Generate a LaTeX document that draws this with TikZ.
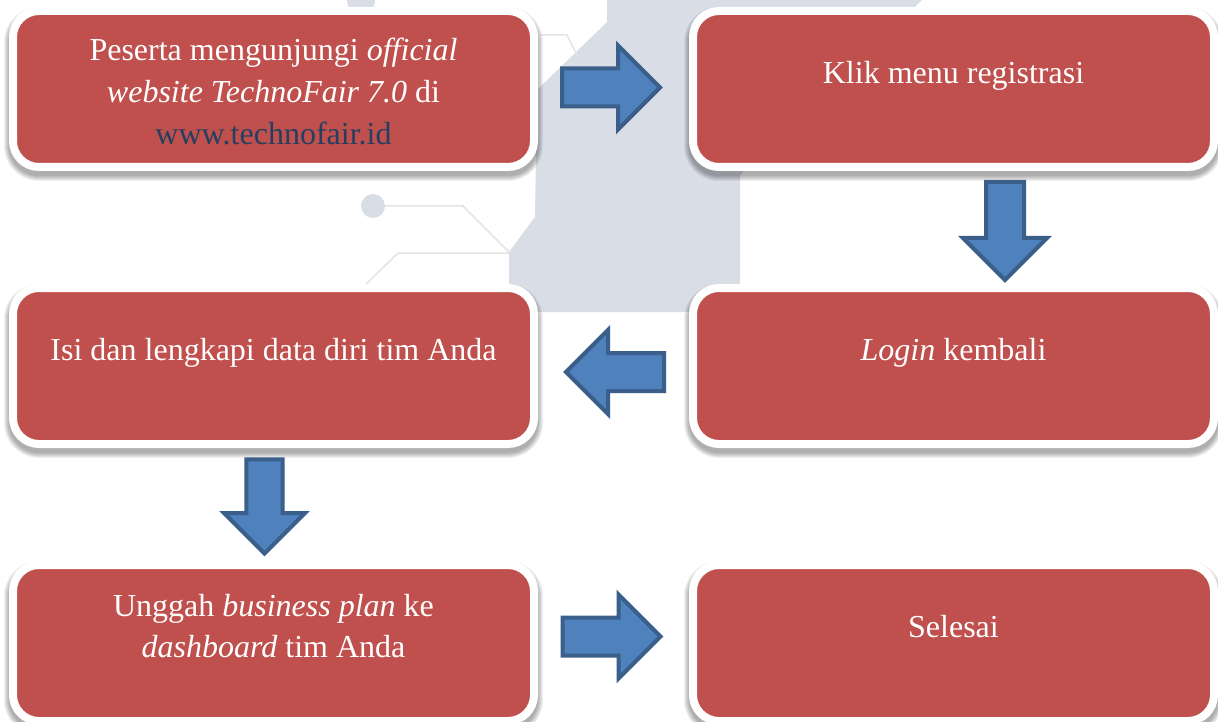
\documentclass[tikz,border=0pt]{standalone}
\usepackage{fontspec}
\setmainfont{Liberation Serif}
\usetikzlibrary{calc}
\pgfdeclarelayer{wm}
\pgfdeclarelayer{shade}
\pgfsetlayers{wm,shade,main}
\definecolor{boxred}{HTML}{C0504D}
\definecolor{arrowfill}{HTML}{4F81BD}
\definecolor{arrowline}{HTML}{3A5F8B}
\definecolor{wmgray}{HTML}{D9DDE6}
\definecolor{wmline}{HTML}{E4E4E6}
\definecolor{urlblue}{HTML}{243F60}
\newcommand\blockarrow[3][1]{%
  \draw[barrow, shift={(#2)}, rotate=#3, scale=#1]
    (-49,-19) -- (7,-19) -- (7,-42) -- (49,0) -- (7,42) -- (7,19) -- (-49,19) -- cycle;}
\begin{document}
\begin{tikzpicture}[x=1pt,y=-1pt,
  stepbox/.style={draw=white, fill=boxred, line width=8pt, rounded corners=26pt,
    minimum width=521pt, minimum height=156pt, inner sep=0pt, outer sep=0pt},
  txt/.style={text=white, font=\fontsize{32}{41.75}\selectfont, inner sep=0pt, anchor=base},
  barrow/.style={draw=arrowline, fill=arrowfill, line width=4pt, line join=miter}]
\useasboundingbox (0,0) rectangle (1218,722);
% background and watermark
\begin{pgfonlayer}{wm}
  \fill[white] (0,0) rectangle (1218,722);
  \fill[wmgray] (607,0) -- (607,22) -- (537,90) -- (535,217) -- (509,252) -- (509,312)
     -- (740,312) -- (740,175) -- (922,0) -- cycle;
  \fill[wmgray] (361,0) circle[radius=14];
  \fill[wmgray] (373,206) circle[radius=12];
  \draw[wmline, line width=1.5pt] (385,206) -- (463,206) -- (509,252);
  \draw[wmline, line width=1.5pt] (509,253) -- (398,253) -- (358,292);
  \draw[wmline, line width=1.5pt] (540,35) -- (567,35) -- (578,57);
\end{pgfonlayer}
% boxes
\node[stepbox] (b1) at (273.5,89) {};
\node[stepbox] (b2) at (953.5,89) {};
\node[stepbox] (b3) at (273.5,366) {};
\node[stepbox] (b4) at (953.5,366) {};
\node[stepbox] (b5) at (273.5,643) {};
\node[stepbox] (b6) at (953.5,643) {};
% shadows
\begin{pgfonlayer}{shade}
\foreach \n in {b1,b2,b3,b4,b5,b6}{
  \foreach \k in {0,...,5}{
    \pgfmathsetmacro\rr{30+\k}
    \fill[black, opacity=0.06, rounded corners=\rr pt]
      ($(\n.north west)+(-4-\k,1-\k)$) rectangle ($(\n.south east)+(4+\k,9+\k)$);
  }
}
\end{pgfonlayer}
% texts
\node[txt] (t1) at ($(b1.north)+(0,50)$) {\begin{tabular}[t]{@{}c@{}}Peserta mengunjungi \textit{official}\\ \textit{website TechnoFair 7.0} di\\ \textcolor{urlblue}{www.technofair.id}\end{tabular}};
\node[txt] (t2) at ($(b2.north)+(0,72.5)$) {Klik menu registrasi};
\node[txt] (t3) at ($(b3.north)+(0,72.5)$) {Isi dan lengkapi data diri tim Anda};
\node[txt] (t4) at ($(b4.north)+(0,72.5)$) {\textit{Login} kembali};
\node[txt] (t5) at ($(b5.north)+(0,51)$) {\begin{tabular}[t]{@{}c@{}}Unggah \textit{business plan} ke\\ \textit{dashboard} tim Anda\end{tabular}};
\node[txt] (t6) at ($(b6.north)+(0,72)$) {Selesai};
% block arrows between steps
\coordinate (a12) at ($($(b1.east)!0.5!(b2.west)$)+(-2.5,-1.5)$);
\coordinate (a24) at ($($(b2.south)!0.5!(b4.north)$)+(51.5,3.5)$);
\coordinate (a43) at ($($(b3.east)!0.5!(b4.west)$)+(1.5,6)$);
\coordinate (a35) at ($($(b3.south)!0.5!(b5.north)$)+(-9,2)$);
\coordinate (a56) at ($($(b5.east)!0.5!(b6.west)$)+(-2,-6.5)$);
\blockarrow{a12}{0}
\blockarrow{a24}{-90}
\blockarrow{a43}{180}
\blockarrow[0.96]{a35}{-90}
\blockarrow{a56}{0}
\end{tikzpicture}
\end{document}
